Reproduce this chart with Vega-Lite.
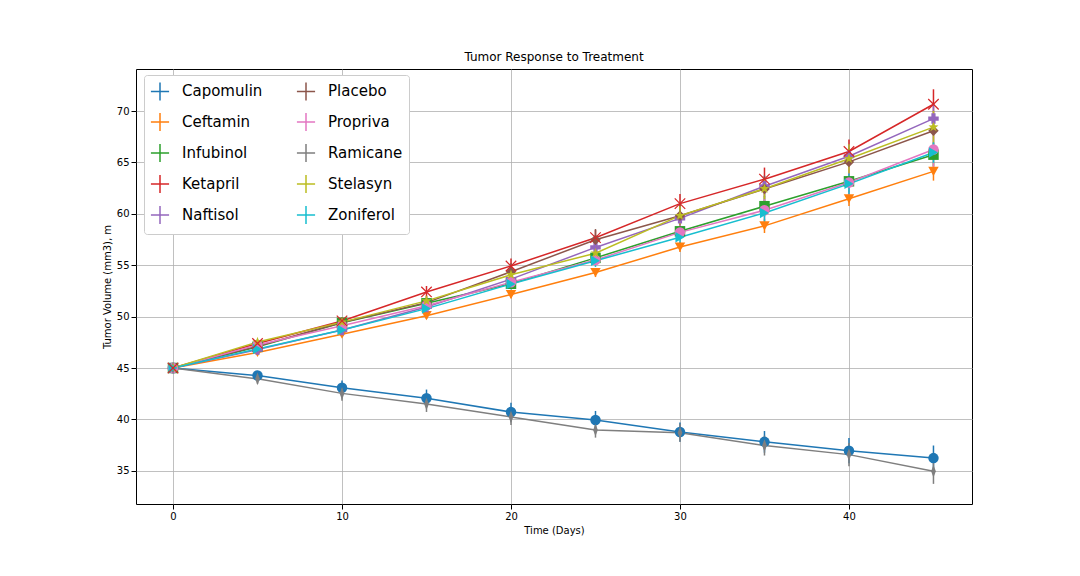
{
"$schema":"https://vega.github.io/schema/vega-lite/v6.json",
"width":836,"height":435,
"autosize":{"type":"none"},
"padding":{"left":136,"top":69,"right":108,"bottom":72},
"background":"white",
"title":{"text":"Tumor Response to Treatment","fontSize":12,"fontWeight":"normal","font":"DejaVu Sans","offset":5},
"config":{"font":"DejaVu Sans","view":{"stroke":"black"},
"axis":{"grid":true,"gridColor":"#b0b0b0","gridWidth":0.8,"domain":false,"tickColor":"black","labelFontSize":10,"titleFontSize":10,"titleFontWeight":"normal","labelColor":"black","titleColor":"black"}},
"data":{"values":[
{"d":"Capomulin","t":0,"m":45.0,"e":0},{"d":"Capomulin","t":5,"m":44.266,"e":0.449},{"d":"Capomulin","t":10,"m":43.084,"e":0.703},{"d":"Capomulin","t":15,"m":42.064,"e":0.839},{"d":"Capomulin","t":20,"m":40.716,"e":0.910},{"d":"Capomulin","t":25,"m":39.940,"e":0.882},{"d":"Capomulin","t":30,"m":38.769,"e":0.934},{"d":"Capomulin","t":35,"m":37.817,"e":1.052},{"d":"Capomulin","t":40,"m":36.958,"e":1.224},{"d":"Capomulin","t":45,"m":36.236,"e":1.224},
{"d":"Ceftamin","t":0,"m":45.0,"e":0},{"d":"Ceftamin","t":5,"m":46.503,"e":0.165},{"d":"Ceftamin","t":10,"m":48.285,"e":0.236},{"d":"Ceftamin","t":15,"m":50.094,"e":0.332},{"d":"Ceftamin","t":20,"m":52.157,"e":0.359},{"d":"Ceftamin","t":25,"m":54.288,"e":0.439},{"d":"Ceftamin","t":30,"m":56.770,"e":0.491},{"d":"Ceftamin","t":35,"m":58.828,"e":0.692},{"d":"Ceftamin","t":40,"m":61.468,"e":0.709},{"d":"Ceftamin","t":45,"m":64.132,"e":0.902},
{"d":"Infubinol","t":0,"m":45.0,"e":0},{"d":"Infubinol","t":5,"m":47.062,"e":0.235},{"d":"Infubinol","t":10,"m":49.404,"e":0.282},{"d":"Infubinol","t":15,"m":51.296,"e":0.358},{"d":"Infubinol","t":20,"m":53.198,"e":0.476},{"d":"Infubinol","t":25,"m":55.715,"e":0.550},{"d":"Infubinol","t":30,"m":58.299,"e":0.631},{"d":"Infubinol","t":35,"m":60.742,"e":0.984},{"d":"Infubinol","t":40,"m":63.163,"e":1.055},{"d":"Infubinol","t":45,"m":65.756,"e":1.144},
{"d":"Ketapril","t":0,"m":45.0,"e":0},{"d":"Ketapril","t":5,"m":47.389,"e":0.265},{"d":"Ketapril","t":10,"m":49.582,"e":0.357},{"d":"Ketapril","t":15,"m":52.400,"e":0.580},{"d":"Ketapril","t":20,"m":54.921,"e":0.726},{"d":"Ketapril","t":25,"m":57.679,"e":0.755},{"d":"Ketapril","t":30,"m":60.995,"e":0.934},{"d":"Ketapril","t":35,"m":63.372,"e":1.128},{"d":"Ketapril","t":40,"m":66.069,"e":1.158},{"d":"Ketapril","t":45,"m":70.663,"e":1.453},
{"d":"Naftisol","t":0,"m":45.0,"e":0},{"d":"Naftisol","t":5,"m":46.796,"e":0.202},{"d":"Naftisol","t":10,"m":48.694,"e":0.319},{"d":"Naftisol","t":15,"m":50.933,"e":0.444},{"d":"Naftisol","t":20,"m":53.644,"e":0.595},{"d":"Naftisol","t":25,"m":56.732,"e":0.814},{"d":"Naftisol","t":30,"m":59.560,"e":0.975},{"d":"Naftisol","t":35,"m":62.685,"e":1.014},{"d":"Naftisol","t":40,"m":65.601,"e":1.119},{"d":"Naftisol","t":45,"m":69.266,"e":1.416},
{"d":"Placebo","t":0,"m":45.0,"e":0},{"d":"Placebo","t":5,"m":47.126,"e":0.218},{"d":"Placebo","t":10,"m":49.423,"e":0.402},{"d":"Placebo","t":15,"m":51.360,"e":0.614},{"d":"Placebo","t":20,"m":54.364,"e":0.840},{"d":"Placebo","t":25,"m":57.483,"e":1.035},{"d":"Placebo","t":30,"m":59.809,"e":1.218},{"d":"Placebo","t":35,"m":62.421,"e":1.287},{"d":"Placebo","t":40,"m":65.053,"e":1.371},{"d":"Placebo","t":45,"m":68.084,"e":1.352},
{"d":"Propriva","t":0,"m":45.0,"e":0},{"d":"Propriva","t":5,"m":47.249,"e":0.232},{"d":"Propriva","t":10,"m":49.102,"e":0.376},{"d":"Propriva","t":15,"m":51.067,"e":0.466},{"d":"Propriva","t":20,"m":53.347,"e":0.555},{"d":"Propriva","t":25,"m":55.504,"e":0.577},{"d":"Propriva","t":30,"m":58.196,"e":0.746},{"d":"Propriva","t":35,"m":60.350,"e":1.085},{"d":"Propriva","t":40,"m":63.046,"e":1.565},{"d":"Propriva","t":45,"m":66.259,"e":1.889},
{"d":"Ramicane","t":0,"m":45.0,"e":0},{"d":"Ramicane","t":5,"m":43.945,"e":0.483},{"d":"Ramicane","t":10,"m":42.532,"e":0.720},{"d":"Ramicane","t":15,"m":41.495,"e":0.770},{"d":"Ramicane","t":20,"m":40.238,"e":0.786},{"d":"Ramicane","t":25,"m":38.974,"e":0.747},{"d":"Ramicane","t":30,"m":38.703,"e":0.865},{"d":"Ramicane","t":35,"m":37.452,"e":0.967},{"d":"Ramicane","t":40,"m":36.574,"e":1.128},{"d":"Ramicane","t":45,"m":34.956,"e":1.227},
{"d":"Stelasyn","t":0,"m":45.0,"e":0},{"d":"Stelasyn","t":5,"m":47.527,"e":0.240},{"d":"Stelasyn","t":10,"m":49.464,"e":0.434},{"d":"Stelasyn","t":15,"m":51.529,"e":0.493},{"d":"Stelasyn","t":20,"m":54.067,"e":0.622},{"d":"Stelasyn","t":25,"m":56.166,"e":0.742},{"d":"Stelasyn","t":30,"m":59.827,"e":0.900},{"d":"Stelasyn","t":35,"m":62.441,"e":1.003},{"d":"Stelasyn","t":40,"m":65.356,"e":1.410},{"d":"Stelasyn","t":45,"m":68.438,"e":1.577},
{"d":"Zoniferol","t":0,"m":45.0,"e":0},{"d":"Zoniferol","t":5,"m":46.852,"e":0.189},{"d":"Zoniferol","t":10,"m":48.690,"e":0.264},{"d":"Zoniferol","t":15,"m":50.779,"e":0.371},{"d":"Zoniferol","t":20,"m":53.170,"e":0.533},{"d":"Zoniferol","t":25,"m":55.433,"e":0.603},{"d":"Zoniferol","t":30,"m":57.714,"e":0.800},{"d":"Zoniferol","t":35,"m":60.089,"e":0.881},{"d":"Zoniferol","t":40,"m":62.917,"e":0.999},{"d":"Zoniferol","t":45,"m":65.961,"e":1.004}
]},
"encoding":{
"x":{"field":"t","type":"quantitative","title":"Time (Days)","scale":{"domain":[-2.19,47.28],"nice":false,"zero":false},"axis":{"values":[0,10,20,30,40]}},
"color":{"field":"d","type":"nominal","scale":{"range":["#1f77b4","#ff7f0e","#2ca02c","#d62728","#9467bd","#8c564b","#e377c2","#7f7f7f","#bcbd22","#17becf"]},
"legend":{"orient":"none","legendX":8,"legendY":6,"columns":2,"title":null,"labelFontSize":15,"labelColor":"black","symbolType":"M-1,0L1,0M0,-1L0,1","symbolSize":330,"symbolStrokeWidth":1.5,"rowPadding":5,"columnPadding":30,"labelOffset":12,"padding":6,"fillColor":"white","strokeColor":"#cccccc","cornerRadius":3}}
},
"layer":[
{"mark":{"type":"line","strokeWidth":1.5},"encoding":{"y":{"field":"m","type":"quantitative","title":"Tumor Volume (mm3)","scale":{"domain":[31.77,74.09],"nice":false,"zero":false},"axis":{"values":[35,40,45,50,55,60,65,70]}}}},
{"mark":{"type":"errorbar","thickness":1.5},"encoding":{"y":{"field":"m","type":"quantitative"},"yError":{"field":"e"}}},
{"mark":{"type":"point","filled":true,"opacity":1,"size":110},"encoding":{"y":{"field":"m","type":"quantitative"},
"shape":{"field":"d","type":"nominal","legend":null,"scale":{"range":["circle","triangle-down","square","M-1,-1L1,1M1,-1L-1,1","cross","diamond","circle","M0,-1.2L0.45,0L0,1.2L-0.45,0Z","M0,-1L0.24,-0.33L0.95,-0.31L0.38,0.12L0.59,0.81L0,0.4L-0.59,0.81L-0.38,0.12L-0.95,-0.31L-0.24,-0.33Z","triangle-right"]}}}},
{"transform":[{"filter":"datum.d=='Ketapril'"}],"mark":{"type":"point","shape":"M-1,-1L1,1M1,-1L-1,1","size":110,"strokeWidth":1.2,"opacity":1},"encoding":{"y":{"field":"m","type":"quantitative"}}}
]
}
